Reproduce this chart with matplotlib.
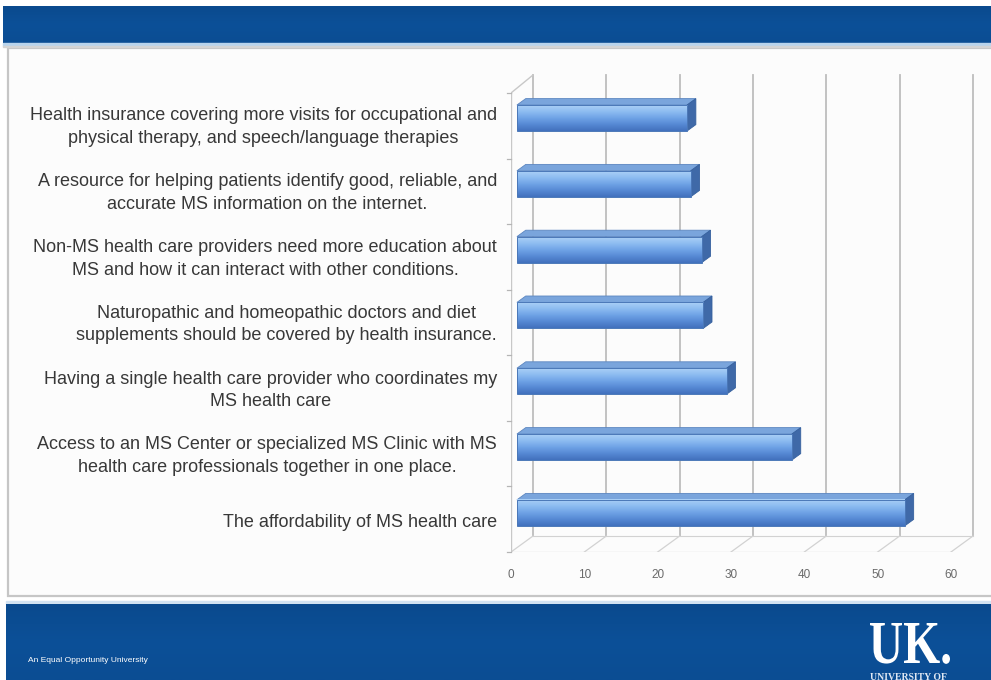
import matplotlib
matplotlib.use('Agg')
import matplotlib.pyplot as plt
import numpy as np
from matplotlib.colors import LinearSegmentedColormap
from matplotlib.patches import Rectangle, Polygon, PathPatch
from matplotlib.textpath import TextPath
from matplotlib.font_manager import FontProperties
from matplotlib.transforms import Affine2D

W, H = 991, 680

categories = [
    "Health insurance covering more visits for occupational and\nphysical therapy, and speech/language therapies",
    "A resource for helping patients identify good, reliable, and\naccurate MS information on the internet.",
    "Non-MS health care providers need more education about\nMS and how it can interact with other conditions.",
    "Naturopathic and homeopathic doctors and diet\nsupplements should be covered by health insurance.",
    "Having a single health care provider who coordinates my\nMS health care",
    "Access to an MS Center or specialized MS Clinic with MS\nhealth care professionals together in one place.",
    "The affordability of MS health care",
]
values = [23.2, 23.7, 25.2, 25.4, 28.6, 37.5, 52.9]
x_ticks = [0, 10, 20, 30, 40, 50, 60]

fig = plt.figure(figsize=(W / 100, H / 100), dpi=100)
fig.patch.set_facecolor('white')

# slide background drawn in pixel coordinates
bg = fig.add_axes([0, 0, 1, 1])
bg.set_xlim(0, W)
bg.set_ylim(H, 0)
bg.axis('off')

band = LinearSegmentedColormap.from_list('band', ['#0a4a8e', '#0c5098', '#0b4d93'])
bg.imshow(np.linspace(0, 1, 50).reshape(-1, 1), cmap=band, aspect='auto',
          extent=(3, W, 43, 6), zorder=1)
bg.add_patch(Rectangle((3, 43), W, 2.5, color='#b9d4ec', zorder=2))
bg.add_patch(Rectangle((3, 45.5), W, 1.5, color='#d4d4d4', zorder=2))

bg.add_patch(Rectangle((8, 48), W, 548, facecolor='#fcfcfc', edgecolor='#c6c6c6',
                       lw=1.6, zorder=1))

bg.add_patch(Rectangle((6, 601), W, 3, color='#d3e3f2', zorder=1))
bg.imshow(np.linspace(0, 1, 50).reshape(-1, 1), cmap=band, aspect='auto',
          extent=(6, W, H, 604), zorder=1)
bg.set_xlim(0, W)
bg.set_ylim(H, 0)

bg.text(28, 660, 'An Equal Opportunity University', color='white', fontsize=6,
        family='Liberation Sans', va='center', ha='left', zorder=3)

# condensed UK wordmark
uk = TextPath((0, 0), 'UK.', size=1, prop=FontProperties(family='Liberation Serif', weight='bold'))
ex = uk.get_extents()
sx = (950 - 870) / ex.width
sy = (663 - 623) / ex.y1
uk = uk.transformed(Affine2D().translate(-ex.x0, 0).scale(sx, -sy).translate(870, 663))
bg.add_patch(PathPatch(uk, facecolor='white', edgecolor='none', zorder=3))
bg.text(908, 677, 'UNIVERSITY OF', color='#dfe8f3', fontsize=7, family='Liberation Serif',
        weight='bold', ha='center', va='center', zorder=3)

# chart area
PX = 7.333          # pixels per value unit
PY = 65.8           # pixels per category
left_px, right_px, top_px, bottom_px = 511, W, 60, 552
ax = fig.add_axes([left_px / W, (H - bottom_px) / H,
                   (right_px - left_px) / W, (bottom_px - top_px) / H])
floor = (bottom_px - 118) / PY
ax.set_frame_on(False)
ax.patch.set_alpha(0)

DX = 22 / PX
DY = -16 / PY
back_top = (75 - 118) / PY
front_top = (93 - 118) / PY
grid_c = '#bdbdbd'
floor_c = '#d2d2d2'

# back wall gridlines and floor
for t in x_ticks:
    ax.plot([t + DX, t + DX], [floor + DY, back_top], color=grid_c, lw=1.3, zorder=1)
    ax.plot([t, t + DX], [floor, floor + DY], color=floor_c, lw=0.9, zorder=1)
ax.plot([0, x_ticks[-1]], [floor, floor], color=floor_c, lw=0.9, zorder=1)
ax.plot([DX, x_ticks[-1] + DX], [floor + DY, floor + DY], color=floor_c, lw=0.8, zorder=1)

# side wall
ax.plot([0, 0], [floor, front_top], color='#c8c8c8', lw=1.0, zorder=1)
ax.plot([0, DX], [front_top, back_top], color='#c8c8c8', lw=1.0, zorder=1)
for yt in np.linspace(front_top, floor, len(categories) + 1):
    ax.plot([-0.6, 0], [yt, yt], color='#b5b5b5', lw=0.9, zorder=1, clip_on=False)

# bars: top face, end face, then gradient front face
front_cmap = LinearSegmentedColormap.from_list(
    'front', ['#aacff6', '#8dbcf1', '#6fa3e6', '#5689d4', '#4271bd'])
grad = np.linspace(0, 1, 64).reshape(-1, 1)
f0 = 0.27
depth = 0.4
bh = 26 / PY
x0 = f0 * DX
ddx, ddy = depth * DX, depth * DY
for i, v in enumerate(values):
    top, bot = i - bh / 2, i + bh / 2
    ax.add_patch(Polygon([(x0, top), (x0 + v, top), (x0 + v + ddx, top + ddy), (x0 + ddx, top + ddy)],
                         closed=True, facecolor='#7aa5dc', edgecolor='#5c86c0', lw=0.6, zorder=3))
    ax.add_patch(Polygon([(x0 + v, top), (x0 + v, bot), (x0 + v + ddx, bot + ddy), (x0 + v + ddx, top + ddy)],
                         closed=True, facecolor='#3f69a8', edgecolor='#35609e', lw=0.6, zorder=3))
    ax.imshow(grad, cmap=front_cmap, aspect='auto', extent=(x0, x0 + v, bot, top), zorder=4)
    ax.add_patch(Rectangle((x0, top), v, bh, facecolor='none', edgecolor='#4b78b8', lw=0.7, zorder=5))
    ax.text(-14 / PX, i + 0.14, categories[i], ha='right', va='center', multialignment='center',
            fontsize=13, color='#383838', family='Liberation Sans', linespacing=1.42,
            zorder=5, clip_on=False)

ax.set_xlim(0, (right_px - left_px) / PX)
ax.set_ylim(floor, (top_px - 118) / PY)
ax.set_yticks([])
ax.set_xticks(x_ticks)
ax.set_xticklabels([str(t) for t in x_ticks], fontsize=8.5, color='#6a6a6a', family='Liberation Sans')
ax.tick_params(axis='x', length=0, pad=12)

fig.savefig('out.png', dpi=100)
